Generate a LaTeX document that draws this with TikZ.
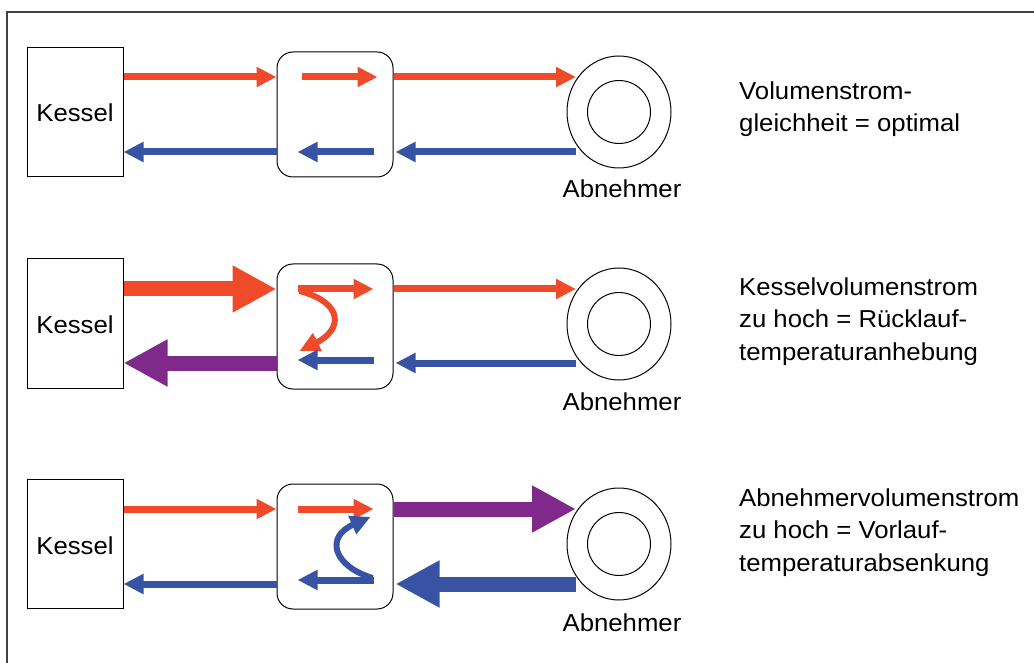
\documentclass[tikz,border=0pt]{standalone}
\usepackage{fontspec}
\setmainfont{Liberation Sans}[FakeStretch=1.05]
\usetikzlibrary{arrows.meta,shapes.geometric,calc}
\definecolor{hot}{HTML}{EF4A2A}
\definecolor{cold}{HTML}{3953A4}
\definecolor{mix}{HTML}{7F2A8A}
\tikzset{
  kessel/.style={draw, line width=1pt, minimum width=96pt, minimum height=129pt, inner sep=0pt},
  mixer/.style={draw, line width=1pt, rounded corners=16pt, minimum width=116pt, minimum height=125pt, inner sep=0pt},
  outer/.style={draw, ellipse, line width=1pt, minimum width=104pt, minimum height=112pt, inner sep=0pt},
  inner/.style={draw, circle, line width=1pt, minimum size=63pt, inner sep=0pt},
  thin/.style={line width=7pt, -{Triangle[length=20pt,width=19pt]}},
  thick/.style={line width=15pt, -{Triangle[length=44pt,width=44pt]}},
  lbl/.style={font=\fontsize{24.5}{32.5}\selectfont, inner sep=0pt},
  note/.style={lbl, align=left, anchor=base west},
}
\begin{document}
\begin{tikzpicture}[x=1pt,y=-1pt]
\useasboundingbox (0,0) rectangle (1034,663);
\draw[line width=1.3pt, black!75] (7,663) -- (7,12) -- (1034,12);

% ---------- Row 1 ----------
\node[kessel] (k1) at (75,112.5) {};
\node[lbl, anchor=base] (k1t) at (75,122) {Kessel};
\node[mixer] (m1) at (335,114.5) {};
\node[outer] (a1) at (619,112) {};
\node[inner] (i1) at (a1.center) {};
\node[lbl, anchor=base] (a1t) at (622,198) {Abnehmer};
\node[note] (n1) at (739,132) {Volumenstrom-\\gleichheit = optimal};
\coordinate (r1) at (0,77);
\coordinate (b1) at (0,152);
\draw[thin, hot] (k1.east |- r1) -- (m1.west |- r1);
\draw[thin, hot] ($(m1.west |- r1)+(25,0)$) -- ($(m1.east |- r1)+(-16,0)$);
\draw[thin, hot] (m1.east |- r1) -- ($(a1.center |- r1)+(-43,0)$);
\draw[thin, cold] ($(a1.center |- b1)+(-43,0)$) -- ($(m1.east |- b1)+(2,0)$);
\draw[thin, cold] ($(m1.east |- b1)+(-20,0)$) -- ($(m1.west |- b1)+(21,0)$);
\draw[thin, cold] (m1.west |- b1) -- (k1.east |- b1);

% ---------- Row 2 ----------
\node[kessel] (k2) at (75,323.5) {};
\node[lbl, anchor=base] (k2t) at (75,334) {Kessel};
\node[mixer] (m2) at (335,326.5) {};
\node[outer] (a2) at (619,324) {};
\node[inner] (i2) at (a2.center) {};
\node[lbl, anchor=base] (a2t) at (622,410) {Abnehmer};
\node[note] (n2) at (739,360) {Kesselvolumenstrom\\zu hoch = Rücklauf-\\temperaturanhebung};
\coordinate (r2) at (0,289);
\coordinate (b2) at (0,363);
\coordinate (bi2) at (0,360);
\draw[thick, hot] (k2.east |- r2) -- (m2.west |- r2);
\draw[thin, hot] ($(m2.west |- r2)+(21,0)$) -- ($(m2.east |- r2)+(-20,0)$);
\draw[line width=6pt, hot, -{Triangle[length=20pt,width=19pt]}]
  ($(m2.west |- r2)+(23,2)$) .. controls (345,303) and (342,330) .. ($(m2.west |- bi2)+(23,-9)$);
\draw[thin, hot] (m2.east |- r2) -- ($(a2.center |- r2)+(-43,0)$);
\draw[thin, cold] ($(a2.center |- b2)+(-43,0)$) -- ($(m2.east |- b2)+(2,0)$);
\draw[thin, cold] ($(m2.east |- bi2)+(-20,0)$) -- ($(m2.west |- bi2)+(21,0)$);
\draw[thick, mix] (m2.west |- b2) -- (k2.east |- b2);

% ---------- Row 3 ----------
\node[kessel] (k3) at (75,544) {};
\node[lbl, anchor=base] (k3t) at (75,554) {Kessel};
\node[mixer] (m3) at (335,546.5) {};
\node[outer] (a3) at (619,544) {};
\node[inner] (i3) at (a3.center) {};
\node[lbl, anchor=base] (a3t) at (622,631) {Abnehmer};
\node[note] (n3) at (739,571) {Abnehmervolumenstrom\\zu hoch = Vorlauf-\\temperaturabsenkung};
\coordinate (r3) at (0,509);
\coordinate (b3) at (0,584);
\coordinate (bi3) at (0,580);
\draw[thin, hot] (k3.east |- r3) -- (m3.west |- r3);
\draw[thin, hot] ($(m3.west |- r3)+(21,0)$) -- ($(m3.east |- r3)+(-20,0)$);
\draw[thick, mix] (m3.east |- r3) -- ($(a3.center |- r3)+(-43,0)$);
\draw[thick, cold] ($(a3.center |- b3)+(-43,0)$) -- ($(m3.east |- b3)+(2,0)$);
\draw[thin, cold] ($(m3.east |- bi3)+(-20,0)$) -- ($(m3.west |- bi3)+(21,0)$);
\draw[line width=6pt, cold, -{Triangle[length=20pt,width=19pt]}]
  ($(m3.east |- bi3)+(-21,-2)$) .. controls (333,566) and (325,537) .. ($(m3.east |- r3)+(-23,8)$);
\draw[thin, cold] (m3.west |- b3) -- (k3.east |- b3);
\end{tikzpicture}
\end{document}
